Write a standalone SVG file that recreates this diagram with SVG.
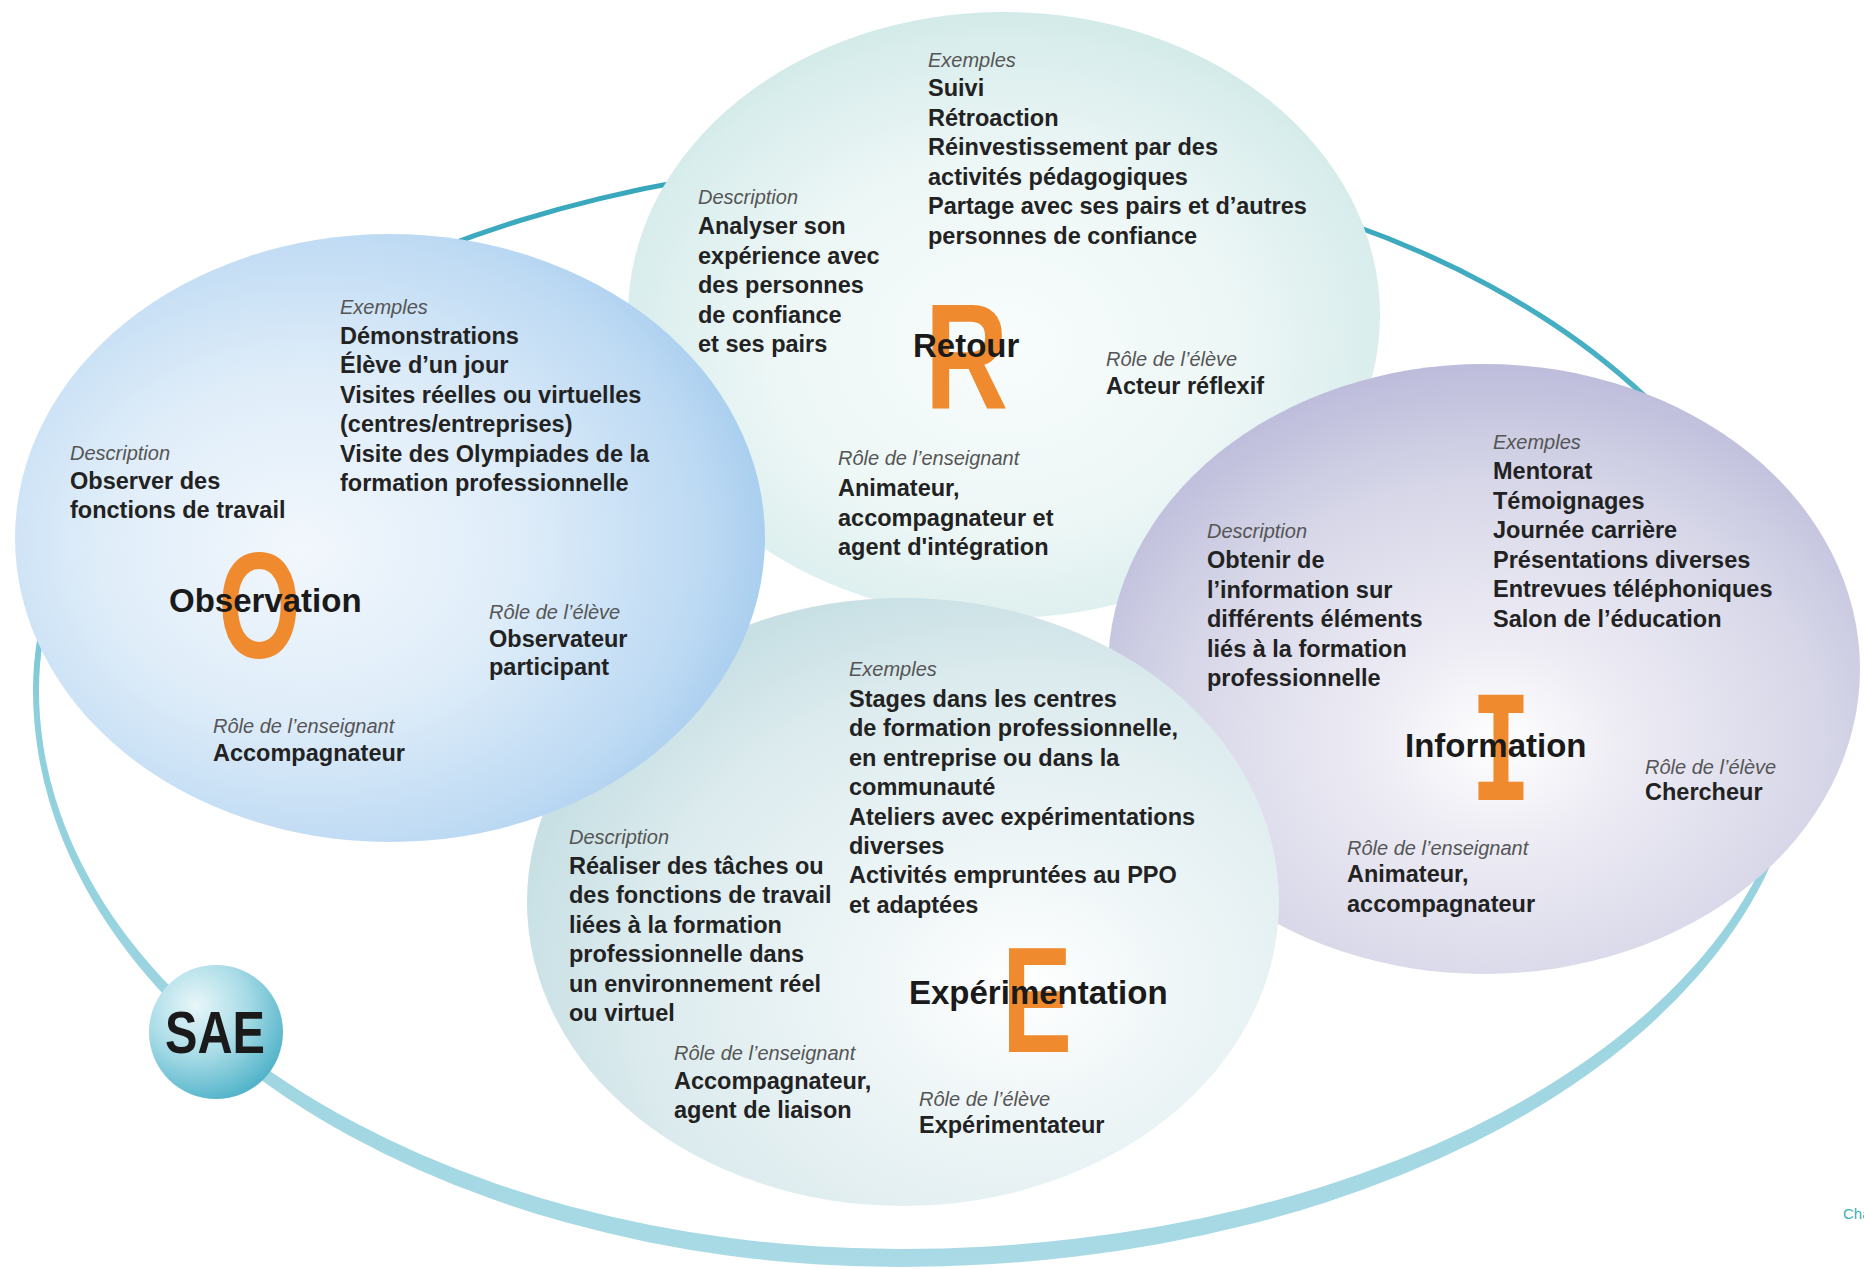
<svg xmlns="http://www.w3.org/2000/svg" width="1864" height="1269" viewBox="0 0 1864 1269">
<defs>
<style>
.lbl{font-family:"Liberation Sans",Arial,sans-serif;font-style:italic;font-size:20px;fill:#555;}
.txt{font-family:"Liberation Sans",Arial,sans-serif;font-weight:bold;font-size:23.5px;fill:#222;}
.ttl{font-family:"Liberation Sans",Arial,sans-serif;font-weight:bold;font-size:33px;fill:#1a1a1a;}
.big{font-family:"Liberation Sans",Arial,sans-serif;font-weight:bold;font-size:150px;fill:#f08a2e;}
</style>
<linearGradient id="gRing" x1="0" y1="0" x2="0" y2="1">
<stop offset="0" stop-color="#35a5bb"/>
<stop offset="0.3" stop-color="#55b7ca"/>
<stop offset="0.5" stop-color="#8dcfdc"/>
<stop offset="1" stop-color="#a9dae5"/>
</linearGradient>
<radialGradient id="gO" cx="0.4" cy="0.5" r="0.62" fx="0.38" fy="0.52">
<stop offset="0" stop-color="#f2f7fc"/>
<stop offset="0.45" stop-color="#dfedf9"/>
<stop offset="0.85" stop-color="#bcd9f3"/>
<stop offset="1" stop-color="#a5ccee"/>
</radialGradient>
<radialGradient id="gR" cx="0.5" cy="0.55" r="0.6">
<stop offset="0" stop-color="#f8fcfc"/>
<stop offset="0.5" stop-color="#edf7f6"/>
<stop offset="0.85" stop-color="#d8edec"/>
<stop offset="1" stop-color="#cae6e4"/>
</radialGradient>
<radialGradient id="gI" cx="0.52" cy="0.62" r="0.62">
<stop offset="0" stop-color="#ffffff"/>
<stop offset="0.25" stop-color="#eeedf5"/>
<stop offset="0.7" stop-color="#d6d6e8"/>
<stop offset="1" stop-color="#bdbcdb"/>
</radialGradient>
<radialGradient id="gE" cx="0.66" cy="0.64" r="0.68">
<stop offset="0" stop-color="#ffffff"/>
<stop offset="0.3" stop-color="#eff6f7"/>
<stop offset="0.75" stop-color="#dcebee"/>
<stop offset="1" stop-color="#c8e0e4"/>
</radialGradient>
<radialGradient id="gS" cx="0.35" cy="0.3" r="0.75">
<stop offset="0" stop-color="#e8f6f9"/>
<stop offset="0.5" stop-color="#a9dce7"/>
<stop offset="1" stop-color="#4fb2c8"/>
</radialGradient>
</defs>
<rect width="1864" height="1269" fill="#ffffff"/>

<g id="connectors">
<path id="ring" fill="url(#gRing)" fill-rule="evenodd"
 d="M950 155.5 A853 564.5 0 0 1 1803 720 A903 547 0 0 1 900 1267 A867 577 0 0 1 33 690 A917 534.5 0 0 1 950 155.5 Z
    M950 160.5 A847 559.5 0 0 1 1797 720 A897 529 0 0 1 900 1249 A861 559 0 0 1 39 690 A911 529.5 0 0 1 950 160.5 Z"/>
</g>

<g id="node-retour">
<ellipse cx="1004" cy="315" rx="376" ry="303" fill="url(#gR)"/>
<text class="big" transform="translate(966.5 408) scale(0.77 1)" text-anchor="middle">R</text>
<text class="ttl" x="913" y="357">Retour</text>
<text class="lbl" x="928" y="67">Exemples</text>
<text class="txt"><tspan x="928" y="96">Suivi</tspan><tspan x="928" dy="29.5">Rétroaction</tspan><tspan x="928" dy="29.5">Réinvestissement par des</tspan><tspan x="928" dy="29.5">activités pédagogiques</tspan><tspan x="928" dy="29.5">Partage avec ses pairs et d’autres</tspan><tspan x="928" dy="29.5">personnes de confiance</tspan></text>
<text class="lbl" x="698" y="204">Description</text>
<text class="txt"><tspan x="698" y="234">Analyser son</tspan><tspan x="698" dy="29.5">expérience avec</tspan><tspan x="698" dy="29.5">des personnes</tspan><tspan x="698" dy="29.5">de confiance</tspan><tspan x="698" dy="29.5">et ses pairs</tspan></text>
<text class="lbl" x="1106" y="366">Rôle de l’élève</text>
<text class="txt" x="1106" y="394">Acteur réflexif</text>
<text class="lbl" x="838" y="465">Rôle de l’enseignant</text>
<text class="txt"><tspan x="838" y="496">Animateur,</tspan><tspan x="838" dy="29.5">accompagnateur et</tspan><tspan x="838" dy="29.5">agent d'intégration</tspan></text>
</g>

<g id="node-information">
<ellipse cx="1484" cy="669" rx="376" ry="305" fill="url(#gI)"/>
<text transform="translate(1501 800) scale(0.72 1)" text-anchor="middle" style="font-family:'DejaVu Sans Mono',monospace;font-weight:bold;font-size:144px;fill:#f08a2e">I</text>
<text class="ttl" x="1405" y="757">Information</text>
<text class="lbl" x="1493" y="449">Exemples</text>
<text class="txt"><tspan x="1493" y="479">Mentorat</tspan><tspan x="1493" dy="29.5">Témoignages</tspan><tspan x="1493" dy="29.5">Journée carrière</tspan><tspan x="1493" dy="29.5">Présentations diverses</tspan><tspan x="1493" dy="29.5">Entrevues téléphoniques</tspan><tspan x="1493" dy="29.5">Salon de l’éducation</tspan></text>
<text class="lbl" x="1207" y="538">Description</text>
<text class="txt"><tspan x="1207" y="568">Obtenir de</tspan><tspan x="1207" dy="29.5">l’information sur</tspan><tspan x="1207" dy="29.5">différents éléments</tspan><tspan x="1207" dy="29.5">liés à la formation</tspan><tspan x="1207" dy="29.5">professionnelle</tspan></text>
<text class="lbl" x="1645" y="774">Rôle de l’élève</text>
<text class="txt" x="1645" y="800">Chercheur</text>
<text class="lbl" x="1347" y="855">Rôle de l’enseignant</text>
<text class="txt"><tspan x="1347" y="882">Animateur,</tspan><tspan x="1347" dy="29.5">accompagnateur</tspan></text>
</g>

<g id="node-experimentation">
<ellipse cx="903" cy="902" rx="376" ry="304" fill="url(#gE)"/>
<text class="big" transform="translate(1037 1052) scale(0.7 1)" text-anchor="middle">E</text>
<text class="ttl" x="909" y="1004">Expérimentation</text>
<text class="lbl" x="849" y="676">Exemples</text>
<text class="txt"><tspan x="849" y="707">Stages dans les centres</tspan><tspan x="849" dy="29.4">de formation professionnelle,</tspan><tspan x="849" dy="29.4">en entreprise ou dans la</tspan><tspan x="849" dy="29.4">communauté</tspan><tspan x="849" dy="29.4">Ateliers avec expérimentations</tspan><tspan x="849" dy="29.4">diverses</tspan><tspan x="849" dy="29.4">Activités empruntées au PPO</tspan><tspan x="849" dy="29.4">et adaptées</tspan></text>
<text class="lbl" x="569" y="844">Description</text>
<text class="txt"><tspan x="569" y="874">Réaliser des tâches ou</tspan><tspan x="569" dy="29.4">des fonctions de travail</tspan><tspan x="569" dy="29.4">liées à la formation</tspan><tspan x="569" dy="29.4">professionnelle dans</tspan><tspan x="569" dy="29.4">un environnement réel</tspan><tspan x="569" dy="29.4">ou virtuel</tspan></text>
<text class="lbl" x="674" y="1060">Rôle de l’enseignant</text>
<text class="txt"><tspan x="674" y="1089">Accompagnateur,</tspan><tspan x="674" dy="29.4">agent de liaison</tspan></text>
<text class="lbl" x="919" y="1106">Rôle de l’élève</text>
<text class="txt" x="919" y="1133">Expérimentateur</text>
</g>

<g id="node-observation">
<ellipse cx="390" cy="538" rx="375" ry="304" fill="url(#gO)"/>
<text class="big" transform="translate(259.5 658) scale(0.71 1)" text-anchor="middle">O</text>
<text class="ttl" x="169" y="612">Observation</text>
<text class="lbl" x="340" y="314">Exemples</text>
<text class="txt"><tspan x="340" y="344">Démonstrations</tspan><tspan x="340" dy="29.4">Élève d’un jour</tspan><tspan x="340" dy="29.4">Visites réelles ou virtuelles</tspan><tspan x="340" dy="29.4">(centres/entreprises)</tspan><tspan x="340" dy="29.4">Visite des Olympiades de la</tspan><tspan x="340" dy="29.4">formation professionnelle</tspan></text>
<text class="lbl" x="70" y="460">Description</text>
<text class="txt"><tspan x="70" y="489">Observer des</tspan><tspan x="70" dy="29.4">fonctions de travail</tspan></text>
<text class="lbl" x="489" y="619">Rôle de l’élève</text>
<text class="txt"><tspan x="489" y="647">Observateur</tspan><tspan x="489" dy="27.5">participant</tspan></text>
<text class="lbl" x="213" y="733">Rôle de l’enseignant</text>
<text class="txt" x="213" y="761">Accompagnateur</text>
</g>

<g id="node-sae">
<circle cx="216" cy="1032" r="67" fill="url(#gS)"/>
<text x="165" y="1053" textLength="100" lengthAdjust="spacingAndGlyphs" style="font-family:'Liberation Sans',Arial,sans-serif;font-weight:bold;font-size:60px;fill:#1a1a1a">SAE</text>
</g>

<text x="1843" y="1219" style="font-family:'Liberation Sans',Arial,sans-serif;font-size:15px;fill:#3ab0b8">Cha</text>
</svg>
